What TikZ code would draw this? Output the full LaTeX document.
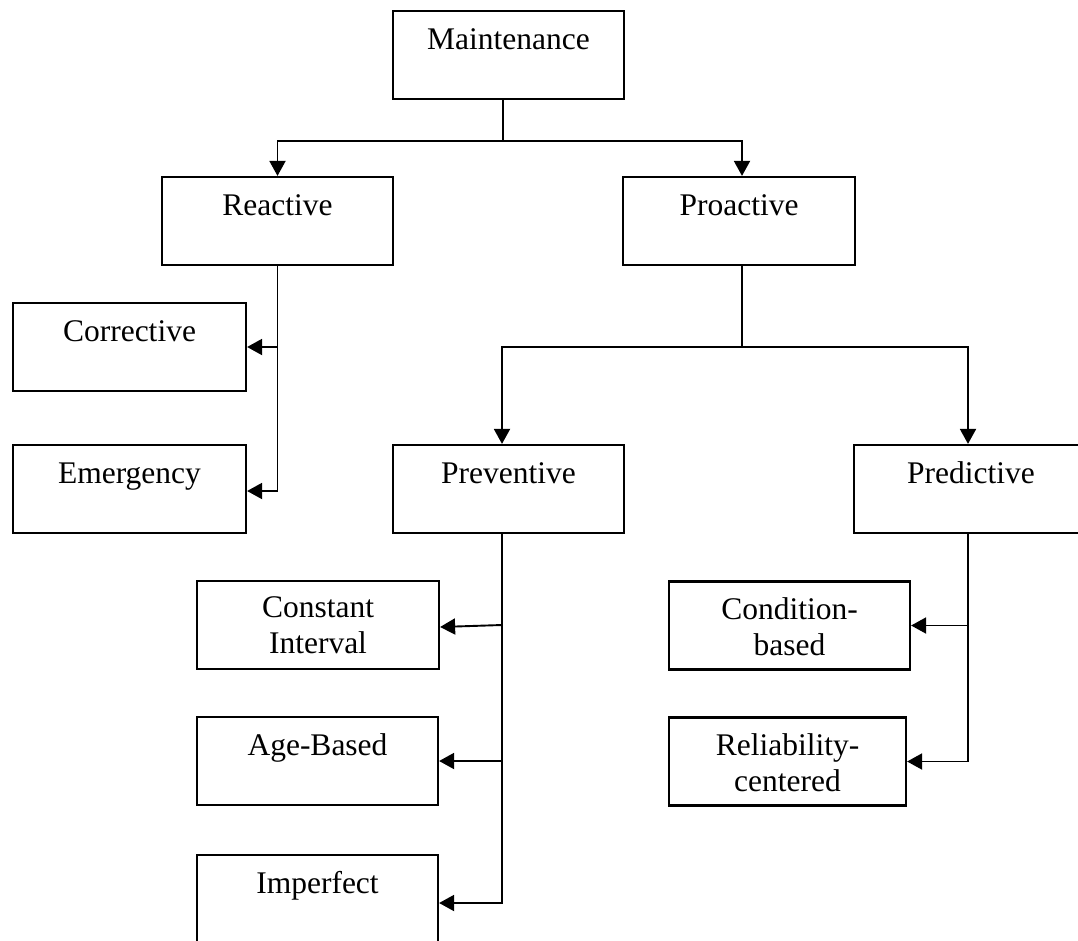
\documentclass[tikz,border=0pt]{standalone}
\usepackage{fontspec}
\setmainfont{Liberation Serif}
\usetikzlibrary{arrows.meta}

\tikzset{
  box/.style={draw, line width=2.2pt, minimum height=88pt, inner sep=0pt},
  lblone/.style={font=\fontsize{31.5}{36}\selectfont, inner sep=0pt, anchor=base, yshift=-40pt},
  lbltwo/.style={font=\fontsize{31.5}{36}\selectfont, inner sep=0pt, align=center, anchor=north, yshift=-17pt},
  link/.style={line width=1.9pt},
  arr/.style={link, -{Triangle[length=15pt, width=16pt]}}
}

\begin{document}
\begin{tikzpicture}[x=1pt, y=-1pt]
\useasboundingbox (0,0) rectangle (1078,940);

% top level
\node[box, minimum width=231pt, label={[lblone]north:Maintenance}] (maint) at (508.5,55) {};

% second level
\node[box, minimum width=231pt, label={[lblone]north:Reactive}] (react) at (277.5,221) {};
\node[box, minimum width=232pt, label={[lblone]north:Proactive}] (proact) at (739,221) {};

% reactive branch
\node[box, minimum width=233pt, label={[lblone]north:Corrective}] (corr) at (129.5,347) {};
\node[box, minimum width=233pt, label={[lblone]north:Emergency}] (emerg) at (129.5,489) {};

% proactive branch
\node[box, minimum width=231pt, label={[lblone]north:Preventive}] (prev) at (508.5,489) {};
\node[box, minimum width=234pt, label={[lblone]north:Predictive}] (pred) at (971,489) {};

% preventive leaves
\node[box, minimum width=242pt, label={[lbltwo]north:Constant\\Interval}] (const) at (318,625) {};
\node[box, minimum width=241pt, label={[lblone]north:Age-Based}] (age) at (317.5,761) {};
\node[box, minimum width=241pt, label={[lblone]north:Imperfect}] (imperf) at (317.5,899) {};

% predictive leaves
\node[box, minimum width=241pt, label={[lbltwo]north:Condition-\\based}] (cond) at (789.5,625.5) {};
\node[box, minimum width=237pt, label={[lbltwo]north:Reliability-\\centered}] (rel) at (787.5,761.5) {};

% Maintenance -> Reactive / Proactive
\coordinate (j1) at (503,141);
\draw[link] (j1 |- maint.south) -- (j1);
\draw[arr] (j1) -| (react.north);
\draw[arr] (j1) -| ([xshift=3pt]proact.north);

% Reactive -> Corrective / Emergency
\draw[arr] (react.south) |- ([yshift=-2pt]emerg.east);
\draw[arr] (react.south |- corr.east) -- (corr.east);

% Proactive -> Preventive / Predictive
\coordinate (j2) at (742,347);
\draw[link] (j2 |- proact.south) -- (j2);
\draw[arr] (j2) -| ([xshift=-6.5pt]prev.north);
\draw[arr] (j2) -| ([xshift=-3pt]pred.north);

% Preventive -> leaves
\draw[arr] ([xshift=-6.5pt]prev.south) |- ([yshift=-4pt]imperf.east);
\draw[arr] ([xshift=-6.5pt]prev.south |- const.east) -- ([yshift=-2pt]const.east);
\draw[arr] ([xshift=-6.5pt]prev.south |- age.east) -- (age.east);

% Predictive -> leaves
\draw[arr] ([xshift=-3pt]pred.south) |- (rel.east);
\draw[arr] ([xshift=-3pt]pred.south |- cond.east) -- (cond.east);
\end{tikzpicture}
\end{document}
